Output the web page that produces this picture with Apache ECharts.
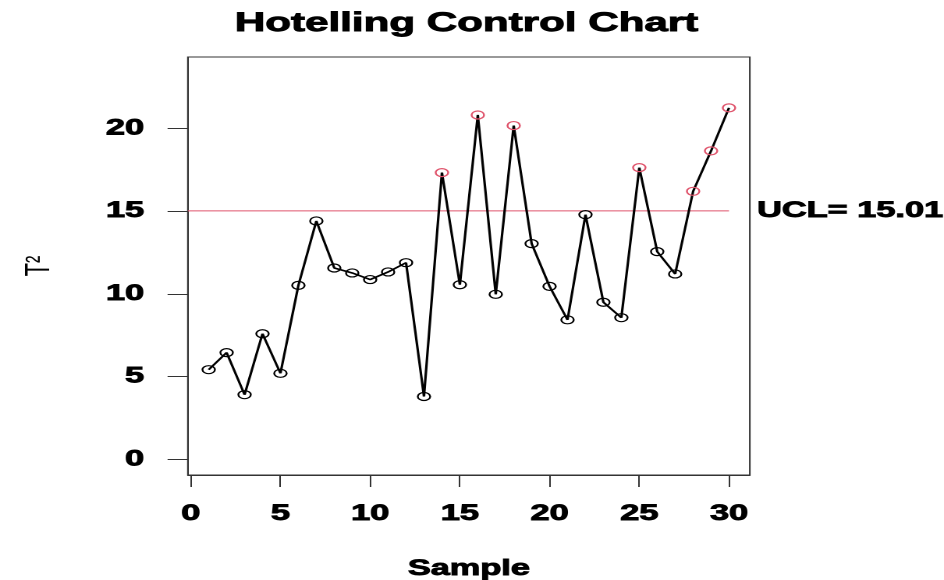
<!DOCTYPE html>
<html>
<head>
<meta charset="utf-8">
<script src="https://cdn.jsdelivr.net/npm/echarts@6/dist/echarts.min.js"></script>
<style>
  html, body { margin: 0; padding: 0; background: #fff; overflow: hidden; }
  #wrap { width: 944px; height: 580px; overflow: hidden; }
  #c { width: 605px; height: 580px; transform: scaleX(1.5603); transform-origin: 0 0; }
</style>
</head>
<body>
<div id="wrap"><div id="c"></div></div>
<script>
const titleText = 'Hotelling Control Chart';
const xName = 'Sample';
const yName = 'T\u00B2';
const samples = [1,2,3,4,5,6,7,8,9,10,11,12,13,14,15,16,17,18,19,20,21,22,23,24,25,26,27,28,29,30];
const t2 = [5.42, 6.45, 3.91, 7.59, 5.20, 10.51, 14.40, 11.56, 11.26, 10.86,
            11.32, 11.88, 3.80, 17.32, 10.55, 20.80, 9.97, 20.16, 13.03, 10.45,
            8.43, 14.78, 9.49, 8.56, 17.62, 12.55, 11.20, 16.19, 18.63, 21.23];
const ucl = 15.01;
const xTicks = [0, 5, 10, 15, 20, 25, 30];
const yTicks = [0, 5, 10, 15, 20];

const RED = '#DF536B';
const FONT = 'Liberation Sans, Arial, sans-serif';
const heavy = { fontFamily: FONT, fontWeight: 'bold', color: '#000', textBorderColor: '#000', textBorderWidth: 0.9 };

const pts = samples.map((s, i) => ({
  value: [s, t2[i]],
  itemStyle: { borderColor: t2[i] > ucl ? RED : '#000' }
}));

const chart = echarts.init(document.getElementById('c'), null, { devicePixelRatio: 2 });
chart.setOption({
  animation: false,
  title: {
    text: titleText,
    left: 294,
    textAlign: 'center',
    top: 5,
    textStyle: Object.assign({ fontSize: 27 }, heavy)
  },
  grid: {
    left: 120.4, right: 124.45, top: 57, bottom: 105,
    outerBoundsMode: 'none',
    containLabel: false,
    show: true, borderColor: '#333', borderWidth: 1, backgroundColor: 'transparent'
  },
  xAxis: {
    type: 'value', min: -0.16, max: 31.16,
    name: xName, nameLocation: 'middle', nameGap: 83,
    nameTextStyle: Object.assign({ fontSize: 22 }, heavy),
    axisLine: { show: true, onZero: false, lineStyle: { color: '#333', width: 1 } },
    axisTick: { show: true, inside: false, length: 12, customValues: xTicks, lineStyle: { color: '#333', width: 1 } },
    axisLabel: Object.assign({ customValues: xTicks, margin: 28, fontSize: 22 }, heavy),
    splitLine: { show: false }
  },
  yAxis: {
    type: 'value', min: -0.94, max: 24.3,
    name: yName, nameLocation: 'middle', nameGap: 84, nameRotate: 90,
    nameTextStyle: { fontFamily: FONT, fontSize: 22, color: '#000' },
    axisLine: { show: true, onZero: false, lineStyle: { color: '#333', width: 1 } },
    axisTick: { show: true, inside: false, length: 13, customValues: yTicks, lineStyle: { color: '#333', width: 1 } },
    axisLabel: Object.assign({ customValues: yTicks, margin: 28, fontSize: 22 }, heavy),
    splitLine: { show: false }
  },
  series: [
    {
      type: 'line',
      data: [[-0.16, ucl], [samples[samples.length - 1], ucl]],
      symbol: 'none',
      lineStyle: { color: RED, width: 1 },
      silent: true,
      endLabel: Object.assign({
        show: true,
        formatter: () => 'UCL= ' + ucl.toFixed(2),
        distance: 18,
        fontSize: 22
      }, heavy),
      z: 1
    },
    {
      type: 'line',
      data: pts,
      symbol: 'circle',
      symbolSize: 8,
      showAllSymbol: true,
      lineStyle: { color: '#000', width: 1.6 },
      itemStyle: { color: 'rgba(0,0,0,0)', borderWidth: 1.2 },
      z: 2
    }
  ]
});
</script>
</body>
</html>
